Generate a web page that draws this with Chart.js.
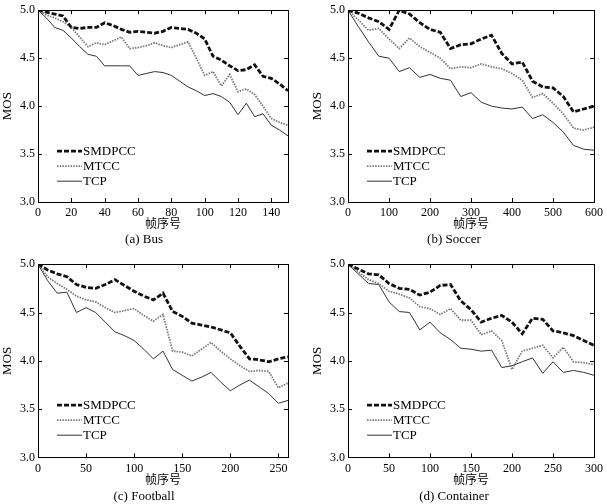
<!DOCTYPE html>
<html>
<head>
<meta charset="utf-8">
<script src="https://cdn.jsdelivr.net/npm/chart.js@4/dist/chart.umd.min.js"></script>
<style>
  html, body { margin: 0; padding: 0; background: #fff; }
  body { width: 607px; height: 504px; position: relative; overflow: hidden; }
  .panel { position: absolute; }
</style>
</head>
<body>
<div class="panel" style="left:0;top:0;width:303px;height:250px"><canvas id="bus"></canvas></div>
<div class="panel" style="left:310px;top:0;width:297px;height:250px"><canvas id="soccer"></canvas></div>
<div class="panel" style="left:0;top:254px;width:303px;height:250px"><canvas id="football"></canvas></div>
<div class="panel" style="left:310px;top:254px;width:297px;height:250px"><canvas id="container"></canvas></div>
<script>
  const seriesNames = ['SMDPCC', 'MTCC', 'TCP'];

  // (a) Bus
  const busFrames = [0, 5, 10, 15, 20, 25, 30, 35, 40, 45, 50, 55, 60, 65, 70, 75, 80, 85, 90, 95, 100, 105, 110, 115, 120, 125, 130, 135, 140, 145, 150];
  const busSMDPCC = [5.00, 4.98, 4.96, 4.94, 4.82, 4.81, 4.82, 4.82, 4.87, 4.84, 4.80, 4.77, 4.78, 4.77, 4.76, 4.78, 4.82, 4.81, 4.80, 4.76, 4.70, 4.52, 4.48, 4.42, 4.37, 4.38, 4.43, 4.31, 4.29, 4.23, 4.16];
  const busMTCC = [5.00, 4.95, 4.92, 4.88, 4.82, 4.72, 4.62, 4.66, 4.64, 4.68, 4.72, 4.60, 4.61, 4.63, 4.66, 4.63, 4.61, 4.64, 4.67, 4.50, 4.32, 4.36, 4.21, 4.33, 4.15, 4.18, 4.12, 4.00, 3.87, 3.83, 3.80];
  const busTCP = [5.00, 4.92, 4.82, 4.79, 4.71, 4.62, 4.54, 4.52, 4.42, 4.42, 4.42, 4.42, 4.32, 4.34, 4.36, 4.35, 4.32, 4.26, 4.20, 4.16, 4.11, 4.13, 4.10, 4.04, 3.91, 4.03, 3.89, 3.92, 3.80, 3.75, 3.69];

  // (b) Soccer
  const soccerFrames = [0, 25, 50, 75, 100, 125, 150, 175, 200, 225, 250, 275, 300, 325, 350, 375, 400, 425, 450, 475, 500, 525, 550, 575, 600];
  const soccerSMDPCC = [5.00, 4.97, 4.92, 4.88, 4.80, 5.00, 4.96, 4.87, 4.80, 4.77, 4.60, 4.64, 4.65, 4.70, 4.74, 4.55, 4.44, 4.46, 4.26, 4.20, 4.19, 4.10, 3.94, 3.97, 4.00];
  const soccerMTCC = [5.00, 4.90, 4.79, 4.81, 4.70, 4.60, 4.71, 4.62, 4.56, 4.50, 4.39, 4.41, 4.40, 4.44, 4.41, 4.39, 4.34, 4.27, 4.09, 4.13, 4.03, 3.92, 3.77, 3.75, 3.78];
  const soccerTCP = [5.00, 4.83, 4.67, 4.52, 4.50, 4.36, 4.40, 4.30, 4.33, 4.29, 4.27, 4.10, 4.14, 4.04, 4.00, 3.98, 3.97, 3.99, 3.87, 3.91, 3.83, 3.73, 3.59, 3.55, 3.54];

  // (c) Football
  const footballFrames = [0, 10, 20, 30, 40, 50, 60, 70, 80, 90, 100, 110, 120, 130, 140, 150, 160, 170, 180, 190, 200, 210, 220, 230, 240, 250, 260];
  const footballSMDPCC = [5.00, 4.94, 4.90, 4.87, 4.79, 4.76, 4.75, 4.79, 4.84, 4.78, 4.72, 4.67, 4.63, 4.70, 4.51, 4.46, 4.39, 4.37, 4.35, 4.32, 4.29, 4.15, 4.02, 4.01, 3.99, 4.02, 4.04];
  const footballMTCC = [5.00, 4.87, 4.80, 4.74, 4.67, 4.63, 4.61, 4.55, 4.50, 4.52, 4.54, 4.47, 4.41, 4.48, 4.10, 4.09, 4.05, 4.12, 4.19, 4.10, 4.02, 3.95, 3.89, 3.90, 3.89, 3.72, 3.77];
  const footballTCP = [5.00, 4.83, 4.70, 4.71, 4.50, 4.55, 4.50, 4.40, 4.30, 4.26, 4.21, 4.12, 4.02, 4.10, 3.91, 3.85, 3.79, 3.83, 3.88, 3.78, 3.69, 3.75, 3.80, 3.73, 3.66, 3.56, 3.59];

  // (d) Container
  const containerFrames = [0, 12.5, 25, 37.5, 50, 62.5, 75, 87.5, 100, 112.5, 125, 137.5, 150, 162.5, 175, 187.5, 200, 212.5, 225, 237.5, 250, 262.5, 275, 287.5, 300];
  const containerSMDPCC = [5.00, 4.95, 4.90, 4.89, 4.80, 4.75, 4.74, 4.68, 4.71, 4.78, 4.79, 4.62, 4.53, 4.40, 4.44, 4.47, 4.40, 4.28, 4.44, 4.43, 4.31, 4.29, 4.26, 4.21, 4.16];
  const containerMTCC = [5.00, 4.92, 4.84, 4.80, 4.72, 4.69, 4.65, 4.56, 4.54, 4.48, 4.54, 4.42, 4.42, 4.27, 4.31, 4.21, 3.91, 4.10, 4.13, 4.16, 4.03, 4.14, 3.99, 3.98, 3.96];
  const containerTCP = [5.00, 4.90, 4.80, 4.79, 4.61, 4.51, 4.50, 4.32, 4.40, 4.29, 4.22, 4.13, 4.12, 4.10, 4.11, 3.93, 3.95, 3.99, 4.03, 3.87, 3.99, 3.88, 3.90, 3.88, 3.85];

  const yTicks = [3.0, 3.5, 4.0, 4.5, 5.0];

  const SERIF = '"Liberation Serif", "Noto Sans CJK SC", serif';
  const lineStyles = [
    { borderColor: '#111', borderWidth: 2.8, borderDash: [5, 2] },
    { borderColor: '#7a7a7a', borderWidth: 1.8, borderDash: [1.5, 1.2] },
    { borderColor: '#333', borderWidth: 1, borderDash: [] }
  ];

  // inner ticks on all four sides plus the frame box
  const frameTicks = {
    id: 'frameTicks',
    afterDraw(chart) {
      const { ctx, chartArea: a, scales } = chart;
      ctx.save();
      ctx.strokeStyle = '#000';
      ctx.lineWidth = 1;
      ctx.beginPath();
      scales.x.ticks.forEach(t => {
        const px = Math.round(scales.x.getPixelForValue(t.value)) + 0.5;
        ctx.moveTo(px, a.bottom); ctx.lineTo(px, a.bottom - 4);
        ctx.moveTo(px, a.top); ctx.lineTo(px, a.top + 4);
      });
      scales.y.ticks.forEach(t => {
        const py = Math.round(scales.y.getPixelForValue(t.value)) + 0.5;
        ctx.moveTo(a.left, py); ctx.lineTo(a.left + 4, py);
        ctx.moveTo(a.right, py); ctx.lineTo(a.right - 4, py);
      });
      ctx.stroke();
      ctx.strokeRect(Math.round(a.left) + 0.5, Math.round(a.top) + 0.5, Math.round(a.right - a.left), Math.round(a.bottom - a.top));
      ctx.restore();
    }
  };

  // legend drawn inside the plot, lower left
  const innerLegend = {
    id: 'innerLegend',
    afterDatasetsDraw(chart) {
      const { ctx, chartArea: a } = chart;
      ctx.save();
      chart.data.datasets.forEach((ds, i) => {
        const y = a.top + 141 + i * 15;
        ctx.strokeStyle = ds.borderColor;
        ctx.lineWidth = ds.borderWidth;
        ctx.setLineDash(ds.borderDash);
        ctx.beginPath();
        ctx.moveTo(a.left + 19, y);
        ctx.lineTo(a.left + 44, y);
        ctx.stroke();
        ctx.setLineDash([]);
        ctx.fillStyle = '#000';
        ctx.font = '13px ' + SERIF;
        ctx.textBaseline = 'middle';
        ctx.fillText(ds.label, a.left + 45, y + 0.5);
      });
      ctx.restore();
    }
  };

  function makePanel(id, frames, values, xMax, xStep, caption, pad) {
    new Chart(document.getElementById(id), {
      type: 'line',
      data: {
        datasets: values.map((v, i) => ({
          label: seriesNames[i],
          data: frames.map((f, k) => ({ x: f, y: v[k] })),
          borderColor: lineStyles[i].borderColor,
          borderWidth: lineStyles[i].borderWidth,
          borderDash: lineStyles[i].borderDash,
          pointRadius: 0,
          tension: 0,
          fill: false
        }))
      },
      options: {
        responsive: true,
        maintainAspectRatio: false,
        animation: false,
        layout: { padding: { top: pad.top, right: pad.right, left: 0, bottom: 0 } },
        plugins: {
          legend: { display: false },
          tooltip: { enabled: false },
          subtitle: {
            display: true,
            position: 'bottom',
            text: caption,
            color: '#000',
            font: { family: SERIF, size: 13 },
            padding: { top: 0, bottom: pad.subBottom }
          }
        },
        scales: {
          x: {
            type: 'linear',
            min: 0,
            max: xMax,
            afterFit: s => { s.height = pad.xHeight; },
            afterBuildTicks: s => {
              s.ticks = [];
              for (let v = 0; v <= xMax; v += xStep) s.ticks.push({ value: v });
            },
            grid: { display: false, drawTicks: false },
            border: { display: false },
            ticks: { color: '#000', padding: 4, maxRotation: 0, font: { family: SERIF, size: 12 } },
            title: { display: true, text: '帧序号', color: '#000', padding: 0, font: { family: SERIF, size: 12 } }
          },
          y: {
            min: 3,
            max: 5,
            afterFit: s => { s.width = 38; },
            afterBuildTicks: s => { s.ticks = yTicks.map(v => ({ value: v })); },
            grid: { display: false, drawTicks: false },
            border: { display: false },
            ticks: { color: '#000', padding: 3, font: { family: SERIF, size: 12 }, callback: v => v.toFixed(1) },
            title: { display: true, text: 'MOS', color: '#000', padding: 0, font: { family: SERIF, size: 13 } }
          }
        }
      },
      plugins: [frameTicks, innerLegend]
    });
  }

  const topPad = { top: 6, right: 15, xHeight: 30, subBottom: 2.4 };
  const botPad = { top: 9, right: 15, xHeight: 31, subBottom: 0 };

  makePanel('bus', busFrames, [busSMDPCC, busMTCC, busTCP], 150, 20, '(a) Bus', topPad);
  makePanel('soccer', soccerFrames, [soccerSMDPCC, soccerMTCC, soccerTCP], 600, 100, '(b) Soccer', { ...topPad, right: 9 });
  makePanel('football', footballFrames, [footballSMDPCC, footballMTCC, footballTCP], 260, 50, '(c) Football', botPad);
  makePanel('container', containerFrames, [containerSMDPCC, containerMTCC, containerTCP], 300, 50, '(d) Container', { ...botPad, right: 9 });
</script>
</body>
</html>
